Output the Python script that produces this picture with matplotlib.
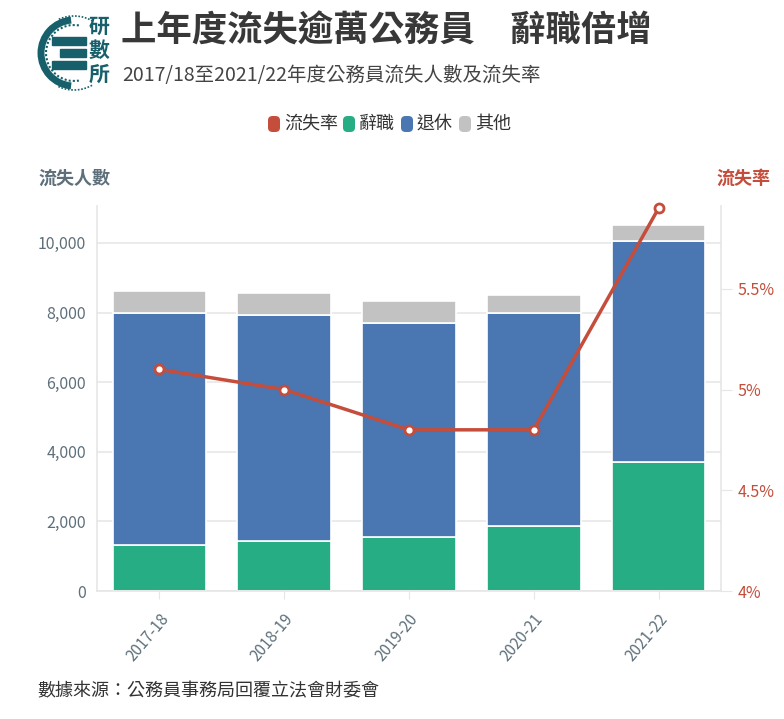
import matplotlib
matplotlib.use("Agg")
import matplotlib.pyplot as plt
import numpy as np
from matplotlib.patches import Arc, Rectangle, FancyBboxPatch
from matplotlib.ticker import FuncFormatter

years = ["2017-18", "2018-19", "2019-20", "2020-21", "2021-22"]
resign = [1320, 1430, 1550, 1860, 3720]
retire = [6680, 6510, 6160, 6130, 6340]
other = [625, 630, 630, 520, 460]
rate = [5.1, 5.0, 4.8, 4.8, 5.9]
left_ticks = [0, 2000, 4000, 6000, 8000, 10000]
right_ticks = [4.0, 4.5, 5.0, 5.5]
right_labels = ["4%", "4.5%", "5%", "5.5%"]

C_GREEN = "#27ad84"
C_BLUE = "#4a76b2"
C_GREY = "#c2c2c2"
C_RED = "#c44d3b"
C_AXIS = "#5d6f7a"
C_TEAL = "#17606b"

plt.rcParams['font.family'] = ['Noto Sans CJK TC', 'DejaVu Sans']

fig = plt.figure(figsize=(7.84, 7.19), dpi=100)
W, H = 784, 719

def fx(px):
    return px / W

def fy(py):
    return 1 - py / H

ax = fig.add_axes([fx(97), fy(591), fx(721) - fx(97), fy(206) - fy(591)])
x = np.arange(len(years))
bw = 0.75
bottom2 = np.array(resign)
bottom3 = bottom2 + np.array(retire)
ax.bar(x, resign, bw, color=C_GREEN, edgecolor="white", linewidth=1.2, zorder=2)
ax.bar(x, retire, bw, bottom=bottom2, color=C_BLUE, edgecolor="white", linewidth=1.2, zorder=2)
ax.bar(x, other, bw, bottom=bottom3, color=C_GREY, edgecolor="white", linewidth=1.2, zorder=2)
ax.set_xlim(-0.5, 4.5)
ax.set_ylim(0, 11060)
ax.set_yticks(left_ticks)
ax.yaxis.set_major_formatter(FuncFormatter(lambda v, p: f"{int(v):,}"))
ax.grid(axis='y', color="#e8e8e8", linewidth=1.2, zorder=0)
ax.set_axisbelow(True)
for s in ['top', 'right']:
    ax.spines[s].set_visible(False)
ax.spines['left'].set_color("#e6e6e6")
ax.spines['left'].set_linewidth(1.2)
ax.spines['bottom'].set_color("#e6e6e6")
ax.spines['bottom'].set_linewidth(1.2)
ax.tick_params(axis='y', length=0, labelsize=11.5, labelcolor=C_AXIS, pad=8)
ax.set_xticks(x)
ax.set_xticklabels(years, rotation=50, ha='right', rotation_mode='anchor')
ax.tick_params(axis='x', length=6, color="#e6e6e6", labelsize=11, labelcolor=C_AXIS, pad=8)

ax2 = ax.twinx()
ax2.set_ylim(4.0, 5.911)
ax2.plot(x, rate, color=C_RED, linewidth=2.5, marker='o', markersize=6.5,
         markerfacecolor='white', markeredgecolor=C_RED, markeredgewidth=2, zorder=5, clip_on=False)
ax2.set_yticks(right_ticks)
ax2.set_yticklabels(right_labels)
ax2.tick_params(axis='y', length=8, color="#e6e6e6", labelsize=11.5, labelcolor=C_RED, pad=4)
for s in ['top', 'left', 'bottom']:
    ax2.spines[s].set_visible(False)
ax2.spines['right'].set_color("#e6e6e6")
ax2.spines['right'].set_linewidth(1.2)

# Axis titles
fig.text(fx(38), fy(178), "流失人數", fontsize=13, fontweight='bold', color=C_AXIS, va='center', ha='left')
fig.text(fx(770), fy(178), "流失率", fontsize=13, fontweight='bold', color=C_RED, va='center', ha='right')

# Title and subtitle
fig.text(fx(121), fy(31), "上年度流失逾萬公務員　辭職倍增", fontsize=25.5, fontweight='bold', color="#383838", va='center', ha='left')
fig.text(fx(122), fy(75), "2017/18至2021/22年度公務員流失人數及流失率", fontsize=14, color="#444444", va='center', ha='left')

# Legend
items = [("流失率", C_RED), ("辭職", C_GREEN), ("退休", C_BLUE), ("其他", C_GREY)]
lx = 268
for lab, col in items:
    fig.patches.append(FancyBboxPatch((fx(lx), fy(132)), fx(12), fy(116) - fy(132),
                                      boxstyle="round,pad=0,rounding_size=0.006",
                                      transform=fig.transFigure, facecolor=col, edgecolor='none'))
    t = fig.text(fx(lx + 16), fy(124), lab, fontsize=13, color="#333333", va='center', ha='left')
    lx += 16 + 17 * len(lab) + 8

# Source
fig.text(fx(37), fy(691), "數據來源：公務員事務局回覆立法會財委會", fontsize=13, color="#333333", va='center', ha='left')

# Logo
lax = fig.add_axes([fx(36), fy(92), fx(76), fy(14) - fy(92)])
lax.set_xlim(0, 76)
lax.set_ylim(0, 78)
lax.set_aspect('equal')
lax.axis('off')
cx, cy = 38, 39
lax.add_patch(Arc((cx, cy), 66, 66, theta1=95, theta2=265, color=C_TEAL, linewidth=5))
lax.add_patch(Arc((cx, cy), 56, 56, theta1=80, theta2=280, color=C_TEAL, linewidth=1.5, linestyle=(0, (1, 1))))
lax.add_patch(Arc((cx, cy), 74, 74, theta1=60, theta2=115, color=C_TEAL, linewidth=1.2, linestyle=(0, (1, 1))))
lax.add_patch(Arc((cx, cy), 74, 74, theta1=245, theta2=300, color=C_TEAL, linewidth=1.2, linestyle=(0, (1, 1))))
lax.add_patch(Rectangle((16, 47), 34, 8, color=C_TEAL))
lax.add_patch(Rectangle((24, 35), 26, 8, color=C_TEAL))
lax.add_patch(Rectangle((16, 23), 34, 8, color=C_TEAL))
for i, ch in enumerate("研數所"):
    lax.text(63, 66 - i * 24, ch, fontsize=15, fontweight='bold', color=C_TEAL, ha='center', va='center')

fig.savefig("out.png", dpi=100, facecolor='white')
